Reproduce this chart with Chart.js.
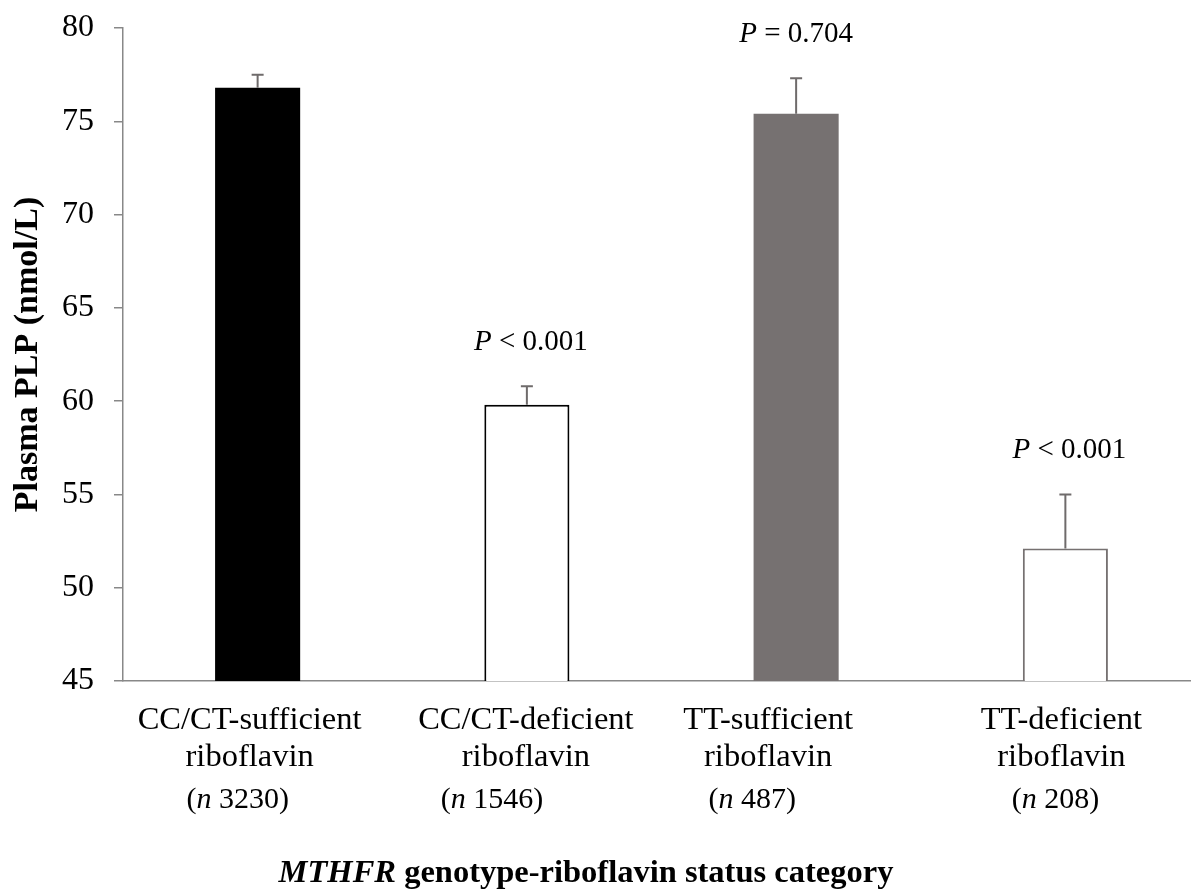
<!DOCTYPE html>
<html>
<head>
<meta charset="utf-8">
<script src="https://cdn.jsdelivr.net/npm/chart.js@4/dist/chart.umd.min.js"></script>
<style>
  html, body { margin: 0; padding: 0; background: #fff; overflow: hidden; }
  #wrap { width: 1200px; height: 889px; }
</style>
</head>
<body>
<div id="wrap"><canvas id="plp"></canvas></div>
<script>
// data
const groups = ["CC/CT-sufficient", "CC/CT-deficient", "TT-sufficient", "TT-deficient"];
const subLabels = ["riboflavin", "riboflavin", "riboflavin", "riboflavin"];
const nValues = [3230, 1546, 487, 208];
const means = [76.8, 59.8, 75.4, 52.1];
const upperErr = [77.5, 60.8, 77.3, 55.0];
const pText = ["", "< 0.001", "= 0.704", "< 0.001"];
const yTicks = [45, 50, 55, 60, 65, 70, 75, 80];

const serif = '"Liberation Serif", "Times New Roman", serif';
const grey = "#767171";

// label nudges (px) to follow the original text boxes
const labelDx = [-8, -1, -28, -4];
const nDx = [-20, -35, -44, -10];
const pDx = [0, 4, 0, 4];

function drawRuns(ctx, runs, cx, baseline) {
  let total = 0;
  runs.forEach((r) => {
    ctx.font = r.font;
    r.w = ctx.measureText(r.text).width;
    total += r.w;
  });
  let x = cx - total / 2;
  runs.forEach((r) => {
    ctx.font = r.font;
    ctx.fillText(r.text, x, baseline);
    x += r.w;
  });
}

const extras = {
  id: "extras",
  afterDatasetsDraw(chart) {
    const ctx = chart.ctx;
    const x = chart.scales.x;
    const y = chart.scales.y;
    ctx.save();

    // error bars (upper only)
    ctx.strokeStyle = "#6f6b6b";
    ctx.lineWidth = 2;
    means.forEach((m, i) => {
      const cx = x.getPixelForValue(i);
      const y0 = y.getPixelForValue(m);
      const y1 = y.getPixelForValue(upperErr[i]);
      ctx.beginPath();
      ctx.moveTo(cx, y0);
      ctx.lineTo(cx, y1);
      ctx.moveTo(cx - 6, y1);
      ctx.lineTo(cx + 6, y1);
      ctx.stroke();
    });

    ctx.fillStyle = "#000";
    ctx.textBaseline = "alphabetic";
    ctx.textAlign = "left";

    // P values
    pText.forEach((t, i) => {
      if (!t) return;
      const cx = x.getPixelForValue(i) + pDx[i];
      const yy = y.getPixelForValue(upperErr[i]) - 36;
      drawRuns(ctx, [
        { text: "P", font: "italic 29px " + serif },
        { text: " " + t, font: "29px " + serif },
      ], cx, yy);
    });

    // category labels
    const base = y.getPixelForValue(45);
    groups.forEach((g, i) => {
      const cx = x.getPixelForValue(i);
      ctx.textAlign = "center";
      ctx.font = "32.5px " + serif;
      ctx.fillText(g, cx + labelDx[i], base + 48);
      ctx.fillText(subLabels[i], cx + labelDx[i], base + 85);
      ctx.textAlign = "left";
      drawRuns(ctx, [
        { text: "(", font: "30px " + serif },
        { text: "n", font: "italic 30px " + serif },
        { text: " " + nValues[i] + ")", font: "30px " + serif },
      ], cx + nDx[i], base + 127);
    });

    // x axis title
    drawRuns(ctx, [
      { text: "MTHFR", font: "italic bold 32.5px " + serif },
      { text: " genotype-riboflavin status category", font: "bold 32.5px " + serif },
    ], 586, 882);

    ctx.restore();
  },
};

const data = {
  labels: groups,
  datasets: [
    {
      data: means,
      backgroundColor: ["#000000", "#ffffff", grey, "#ffffff"],
      borderColor: ["#000000", "#000000", grey, grey],
      borderWidth: [0, 2, 0, 2],
      barPercentage: 0.316,
      categoryPercentage: 1,
    },
  ],
};

const config = {
  type: "bar",
  data: data,
  options: {
    responsive: true,
    maintainAspectRatio: false,
    animation: false,
    layout: { padding: { top: 28, right: 0, left: 0, bottom: 0 } },
    plugins: {
      legend: { display: false },
      tooltip: { enabled: false },
    },
    scales: {
      x: {
        grid: { drawOnChartArea: false, drawTicks: false },
        border: { color: "#888", width: 1.5 },
        ticks: { display: false },
        afterFit: (s) => { s.height = 889 - 681; },
      },
      y: {
        min: 45,
        max: 80,
        afterBuildTicks: (s) => { s.ticks = yTicks.map((v) => ({ value: v })); },
        grid: { drawOnChartArea: false, drawTicks: true, tickLength: 9, color: "#888", lineWidth: 1.5 },
        border: { color: "#888", width: 1.5 },
        ticks: { color: "#000", padding: 20, font: { family: serif, size: 32 } },
        title: {
          display: true,
          text: "Plasma PLP (nmol/L)",
          color: "#000",
          padding: { top: 8 },
          font: { family: serif, size: 34, weight: "bold" },
        },
        afterFit: (s) => {
          s.width = 123;
          s.paddingTop = 0;
          s.paddingBottom = 0;
        },
      },
    },
  },
  plugins: [extras],
};

const chart = new Chart(document.getElementById("plp").getContext("2d"), config);
</script>
</body>
</html>
